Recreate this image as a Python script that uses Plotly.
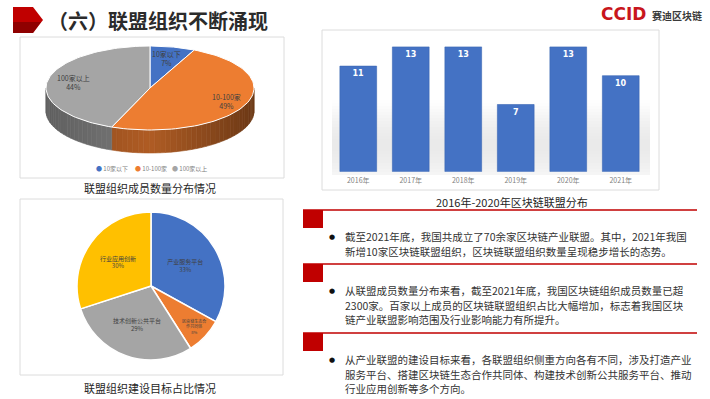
import numpy as np
import plotly.graph_objects as go

W, H = 710, 399

# ---------------- data ----------------
member_cats = ["10家以下", "10-100家", "100家以上"]
member_vals = [7, 49, 44]
member_colors = ["#4472C4", "#ED7D31", "#A5A5A5"]

years = ["2016年", "2017年", "2018年", "2019年", "2020年", "2021年"]
alliance_counts = [11, 13, 13, 7, 13, 10]

goal_cats = ["产业服务平台", "区块链生态合作共同体", "技术创新公共平台", "行业应用创新"]
goal_vals = [33, 8, 29, 30]
goal_colors = ["#4472C4", "#ED7D31", "#A5A5A5", "#FFC000"]

title_text = "（六）联盟组织不断涌现"
caption_member = "联盟组织成员数量分布情况"
caption_bar = "2016年-2020年区块链联盟分布"
caption_goal = "联盟组织建设目标占比情况"

block_lines = [
    ["截至2021年底，我国共成立了70余家区块链产业联盟。其中，2021年我国",
     "新增10家区块链联盟组织，区块链联盟组织数量呈现稳步增长的态势。"],
    ["从联盟成员数量分布来看，截至2021年底，我国区块链组织成员数量已超",
     "2300家。百家以上成员的区块链联盟组织占比大幅增加，标志着我国区块",
     "链产业联盟影响范围及行业影响能力有所提升。"],
    ["从产业联盟的建设目标来看，各联盟组织侧重方向各有不同，涉及打造产业",
     "服务平台、搭建区块链生态合作共同体、构建技术创新公共服务平台、推动",
     "行业应用创新等多个方向。"],
]

CJK = "Noto Sans CJK SC"


def px(x):
    return x / W


def py(y):
    return 1 - y / H


fig = go.Figure()
shapes = []
annotations = []

# ---------------- panels ----------------
for (x0, y0, x1, y1) in [(20, 37, 284, 178), (322, 30, 659, 190), (20, 199, 283, 375)]:
    shapes.append(dict(type="rect", xref="paper", yref="paper", x0=px(x0), x1=px(x1),
                       y0=py(y1), y1=py(y0), line=dict(color="#dcdcdc", width=1),
                       fillcolor="white", layer="below"))

# soft floor gradient behind bars
ys = np.arange(100, 174, 3)
for y0 in ys:
    t = (y0 - 100) / 74.0
    g = int(round(254 - 20 * np.sin(np.pi * min(t * 0.85, 1.0)) ** 1.2))
    shapes.append(dict(type="rect", xref="paper", yref="paper", x0=px(332), x1=px(650),
                       y0=py(y0 + 3), y1=py(y0), line=dict(width=0),
                       fillcolor=f"rgb({g},{g},{g})", layer="below"))

# ---------------- title ----------------
shapes.append(dict(type="path", xref="paper", yref="paper",
                   path=f"M {px(13)},{py(7)} L {px(33)},{py(7)} L {px(43)},{py(20)} "
                        f"L {px(33)},{py(33)} L {px(13)},{py(33)} Z",
                   fillcolor="#c00000", line=dict(width=0)))
shapes.append(dict(type="path", xref="paper", yref="paper",
                   path=f"M {px(13)},{py(22)} L {px(41)},{py(22)} L {px(33)},{py(33)} "
                        f"L {px(13)},{py(33)} Z",
                   fillcolor="#6e0000", opacity=0.6, line=dict(width=0)))
annotations.append(dict(x=px(46), y=py(20), xref="paper", yref="paper", xanchor="left",
                        yanchor="middle", showarrow=False, text=f"<b>{title_text}</b>",
                        font=dict(family=CJK, size=20, color="#2b2b2b")))
# logo
annotations.append(dict(x=px(648), y=py(14), xref="paper", yref="paper", xanchor="right",
                        yanchor="middle", showarrow=False, text="<b>CCID</b>",
                        font=dict(family="DejaVu Sans", size=17, color="#c8161d")))
annotations.append(dict(x=px(650), y=py(15), xref="paper", yref="paper", xanchor="left",
                        yanchor="middle", showarrow=False, text="<b>赛迪区块链</b>",
                        font=dict(family=CJK, size=10, color="#3a3a3a")))

# ---------------- 3D-like pie (member distribution) ----------------
cx, cy, rx, ry, depth = 150, 88, 104, 42, 23
total = sum(member_vals)
bounds = np.cumsum([0] + member_vals) / total * 360.0


def pt(deg, dy=0.0):
    t = np.radians(deg)
    return cx + rx * np.sin(t), cy - ry * np.cos(t) + dy


def rgb(hexc, f):
    hexc = hexc.lstrip("#")
    r, g, b = (int(hexc[i:i + 2], 16) for i in (0, 2, 4))
    return f"rgb({int(r * f)},{int(g * f)},{int(b * f)})"


# side walls (front half only, 90..270 deg)
for i, col in enumerate(member_colors):
    a0, a1 = max(bounds[i], 90), min(bounds[i + 1], 270)
    if a1 <= a0:
        continue
    edges = np.linspace(a0, a1, max(2, int((a1 - a0) / 3) + 1))
    for s0, s1 in zip(edges[:-1], edges[1:]):
        mid = np.radians((s0 + s1) / 2)
        f = 0.74 - 0.22 * abs(np.sin(mid)) - 0.06 * np.sin(mid)
        xa, ya = pt(s0)
        xb, yb = pt(s1)
        fig.add_trace(go.Scatter(
            x=[xa, xb, xb, xa, xa], y=[ya, yb, yb + depth, ya + depth, ya],
            xaxis="x2", yaxis="y2", mode="lines", fill="toself",
            fillcolor=rgb(col, f), line=dict(color=rgb(col, f), width=0.6),
            hoverinfo="skip", showlegend=False))

# top faces
for i, col in enumerate(member_colors):
    angs = np.linspace(bounds[i], bounds[i + 1], 80)
    xs = [cx] + [pt(a)[0] for a in angs] + [cx]
    ys_ = [cy] + [pt(a)[1] for a in angs] + [cy]
    fig.add_trace(go.Scatter(x=xs, y=ys_, xaxis="x2", yaxis="y2", mode="lines",
                             fill="toself", fillcolor=col,
                             line=dict(color="white", width=1),
                             hoverinfo="skip", showlegend=False))

# labels on top face
label_r = [0.72, 0.8, 0.75]
for i, (cat, v) in enumerate(zip(member_cats, member_vals)):
    mid = (bounds[i] + bounds[i + 1]) / 2
    t = np.radians(mid)
    lx = cx + rx * label_r[i] * np.sin(t)
    ly = cy - ry * label_r[i] * np.cos(t)
    annotations.append(dict(x=lx, y=ly, xref="x2", yref="y2", showarrow=False,
                            xanchor="center", yanchor="middle",
                            text=f"{cat}<br>{round(v / total * 100)}%",
                            font=dict(family=CJK, size=7, color="#404040")))

# legend line
for i, cat in enumerate(member_cats):
    annotations.append(dict(x=px(112 + i * 39), y=py(168), xref="paper", yref="paper",
                            showarrow=False, xanchor="center", yanchor="middle",
                            text=f"<span style='color:{member_colors[i]}'>●</span> {cat}",
                            font=dict(family=CJK, size=6, color="#7f7f7f")))

# ---------------- bar chart ----------------
fig.add_trace(go.Bar(
    x=years, y=alliance_counts, width=0.7,
    marker=dict(color="#4472C4", line=dict(color="#3b66b3", width=0.6)),
    text=alliance_counts, texttemplate="<b>%{y}</b>", textposition="inside",
    insidetextanchor="end", textangle=0,
    textfont=dict(family="DejaVu Sans", size=8, color="white"),
    hoverinfo="skip", showlegend=False, xaxis="x", yaxis="y"))

# ---------------- flat pie (construction goals) ----------------
gtotal = sum(goal_vals)
disp = [c if len(c) <= 8 else c[:6] + "<br>" + c[6:] for c in goal_cats]
goal_text = [f"{d}<br>{round(v / gtotal * 100)}%" for d, v in zip(disp, goal_vals)]
pcx, pcy, pr = 151, 286, 74
fig.add_trace(go.Pie(
    labels=goal_cats, values=goal_vals, sort=False, direction="clockwise", rotation=0,
    marker=dict(colors=goal_colors, line=dict(color="white", width=1.5)),
    text=goal_text, textinfo="text", textposition="inside",
    insidetextorientation="horizontal",
    textfont=dict(family=CJK, size=6, color="#404040"),
    domain=dict(x=[px(pcx - pr), px(pcx + pr)], y=[py(pcy + pr), py(pcy - pr)]),
    hoverinfo="skip", showlegend=False))

# ---------------- captions ----------------
for txt, x, y in [(caption_member, 150, 188), (caption_bar, 512, 202), (caption_goal, 150, 388)]:
    annotations.append(dict(x=px(x), y=py(y), xref="paper", yref="paper", showarrow=False,
                            xanchor="center", yanchor="middle",
                            text=txt, font=dict(family=CJK, size=11, color="#262626")))

# ---------------- text blocks ----------------
block_tops = [210, 264, 333]
line_gap = 14.5
for top, lines in zip(block_tops, block_lines):
    shapes.append(dict(type="line", xref="paper", yref="paper", x0=px(303), x1=px(697),
                       y0=py(top), y1=py(top), line=dict(color="#c00000", width=1.5)))
    shapes.append(dict(type="rect", xref="paper", yref="paper", x0=px(303), x1=px(323),
                       y0=py(top + 18), y1=py(top), fillcolor="#c00000", line=dict(width=0)))
    first = top + 26.5
    annotations.append(dict(x=px(332), y=py(first), xref="paper", yref="paper",
                            xanchor="center", yanchor="middle",
                            showarrow=False, text="●",
                            font=dict(family="DejaVu Sans", size=7, color="#111111")))
    for k, ln in enumerate(lines):
        annotations.append(dict(x=px(343), y=py(first + k * line_gap), xref="paper",
                                yref="paper", xanchor="left", yanchor="middle",
                                showarrow=False, text=ln,
                                font=dict(family=CJK, size=10.5, color="#333333")))

fig.update_layout(
    width=W, height=H, margin=dict(l=0, r=0, t=0, b=0),
    paper_bgcolor="white", plot_bgcolor="rgba(0,0,0,0)",
    shapes=shapes, annotations=annotations,
    xaxis=dict(domain=[px(332), px(647)], range=[-0.5, 5.5], showgrid=False,
               zeroline=False, showline=False, ticks="", ticklabelstandoff=3,
               tickfont=dict(family=CJK, size=7, color="#7f7f7f")),
    yaxis=dict(domain=[py(171.7), py(40)], range=[0, 13.72], visible=False,
               showgrid=False),
    xaxis2=dict(domain=[px(20), px(284)], range=[20, 284], visible=False, anchor="y2"),
    yaxis2=dict(domain=[py(178), py(37)], range=[178, 37], visible=False, anchor="x2"),
)

fig.write_html("out.html")
